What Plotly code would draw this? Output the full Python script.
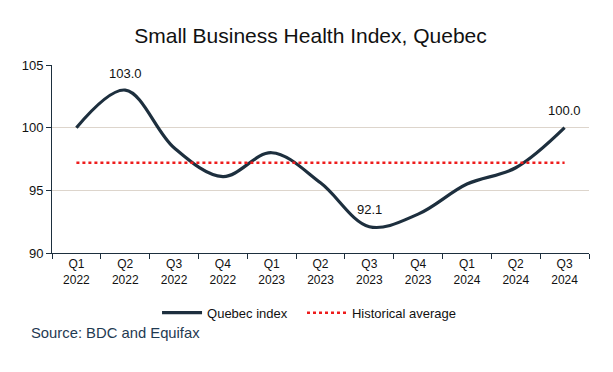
import plotly.graph_objects as go

quarters = ["Q1<br>2022", "Q2<br>2022", "Q3<br>2022", "Q4<br>2022", "Q1<br>2023", "Q2<br>2023",
            "Q3<br>2023", "Q4<br>2023", "Q1<br>2024", "Q2<br>2024", "Q3<br>2024"]
quebec_index = [100.0, 103.0, 98.4, 96.1, 98.0, 95.6, 92.1, 93.1, 95.5, 96.8, 100.0]
historical_avg = [97.2] * len(quarters)
labels = {1: "103.0", 6: "92.1", 10: "100.0"}

FONT = "Liberation Sans, Arial, sans-serif"
NAVY = "#1d2f3e"

fig = go.Figure()
fig.add_trace(go.Scatter(x=quarters, y=quebec_index, mode="lines", name="Quebec index",
                         legend="legend",
                         line=dict(color=NAVY, width=3.2, shape="spline", smoothing=1.0)))
fig.add_trace(go.Scatter(x=quarters, y=historical_avg, mode="lines", name="Historical average",
                         legend="legend2",
                         line=dict(color="#ee1c1c", width=2.5, dash="dot")))

for i, t in labels.items():
    fig.add_annotation(x=quarters[i], y=quebec_index[i], text=t, showarrow=False,
                       yshift=17, font=dict(family=FONT, size=13, color="#111111"))

fig.add_annotation(xref="paper", yref="paper", x=-0.0428, y=-0.4255, xanchor="left", yanchor="middle",
                   text="Source: BDC and Equifax", showarrow=False,
                   font=dict(family=FONT, size=14.8, color="#1f3a52"))

legend_common = dict(orientation="h", xanchor="left", y=-0.3176, yanchor="middle",
                     font=dict(family=FONT, size=13, color="#111111"), itemwidth=40,
                     bgcolor="rgba(0,0,0,0)")

fig.update_layout(
    width=605, height=364,
    margin=dict(l=44, r=24, t=57, b=119),
    paper_bgcolor="white", plot_bgcolor="white",
    font=dict(family=FONT, size=12, color="#111111"),
    title=dict(text="Small Business Health Index, Quebec", x=0.5, xanchor="center",
               y=1 - 27.5 / 364, yanchor="middle", font=dict(family=FONT, size=21, color="#111111")),
    showlegend=True,
    legend=dict(x=0.1956, **legend_common),
    legend2=dict(x=0.4655, **legend_common),
    xaxis=dict(type="category", range=[-0.5, 10.5], tickson="boundaries", ticks="outside", ticklen=5,
               tickcolor=NAVY, showline=True, linecolor=NAVY, linewidth=1, showgrid=False,
               tickfont=dict(family=FONT, size=12, color="#111111")),
    yaxis=dict(range=[90, 105], dtick=5, ticks="outside", ticklen=5, tickcolor=NAVY,
               showline=True, linecolor=NAVY, linewidth=1, showgrid=True, gridcolor="#ddd5cc",
               gridwidth=1, zeroline=False,
               tickfont=dict(family=FONT, size=13, color="#111111")),
)

fig.write_html("out.html")
